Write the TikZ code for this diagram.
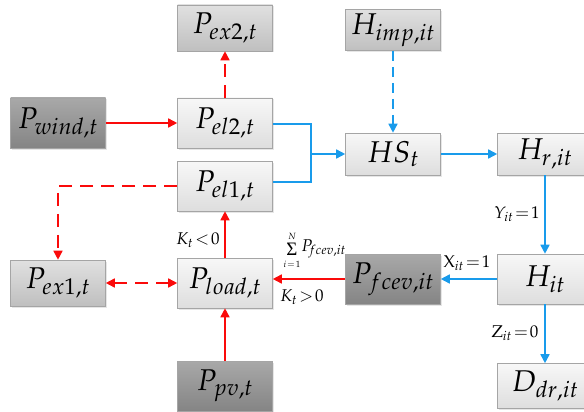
\documentclass[tikz,border=0pt]{standalone}
\usepackage{mathpazo}
\usepackage[no-math]{fontspec}
\newfontfamily\sigmafont{Liberation Serif}
\usetikzlibrary{arrows.meta,shadows,calc}

\definecolor{flowred}{RGB}{250,10,10}
\definecolor{flowblue}{RGB}{25,155,235}
\definecolor{boxedge}{RGB}{165,165,165}
\definecolor{boxshadow}{RGB}{205,205,205}

\tikzset{
  box/.style={draw=boxedge, line width=0.6pt, minimum width=95pt, inner sep=0pt,
    font=\fontsize{30}{32}\selectfont,
    drop shadow={shadow xshift=1.5pt, shadow yshift=-1.5pt, fill=boxshadow, draw=none}},
  lightbox/.style={box, top color=black!3, bottom color=black!13},
  midbox/.style={box, top color=black!12, bottom color=black!25},
  darkbox/.style={box, top color=black!34, bottom color=black!48},
  arrowtip/.style={-{Triangle[length=9pt,width=9pt]}},
  redflow/.style={draw=flowred, color=flowred, line width=1.6pt},
  blueflow/.style={draw=flowblue, color=flowblue, line width=1.6pt},
  reddash/.style={redflow, dash pattern=on 13pt off 8pt},
  bluedash/.style={blueflow, dash pattern=on 10pt off 6pt},
  lbl/.style={inner sep=0pt, font=\fontsize{17}{19}\selectfont},
  limit/.style={inner sep=0pt, font=\fontsize{9}{10}\selectfont},
}

\begin{document}
\begin{tikzpicture}[x=1pt, y=-1pt]
  \useasboundingbox (0,0) rectangle (584,412);
  \clip (0,0) rectangle (584,412);

  % electricity side
  \node[midbox,   minimum height=46pt] (pex2)  at (225,28)  {$P_{ex2,t}$};
  \node[darkbox,  minimum height=50pt] (pwind) at (58,123)  {$P_{wind,t}$};
  \node[lightbox, minimum height=50pt] (pel2)  at (225,123) {$P_{el2,t}$};
  \node[lightbox, minimum height=50pt] (pel1)  at (225,186) {$P_{el1,t}$};
  \node[midbox,   minimum height=46pt] (pex1)  at (58,283)  {$P_{ex1,t}$};
  \node[lightbox, minimum height=50pt] (pload) at (225,283) {$P_{load,t}$};
  \node[darkbox,  minimum height=50pt] (ppv)   at (225,386) {$P_{pv,t}$};

  % hydrogen side
  \node[midbox,   minimum height=41pt] (himp)  at (393,30)  {$H_{imp,it}$};
  \node[lightbox, minimum height=42pt] (hs)    at (393,154) {$HS_{t}$};
  \node[lightbox, minimum height=42pt] (hr)    at (545,154) {$H_{r,it}$};
  \node[lightbox, minimum height=50pt] (hit)   at (545,279) {$H_{it}$};
  \node[darkbox,  minimum height=50pt] (pfcev) at (393,279) {$P_{fcev,it}$};
  \node[lightbox, minimum height=45pt] (ddr)   at (545,386) {$D_{dr,it}$};

  % electric power flows
  \draw[redflow, arrowtip] (pwind.east) -- (pel2.west);
  \draw[reddash, arrowtip] (pel2.north) -- (pex2.south);
  \draw[redflow, arrowtip] (pload.north) -- (pel1.south);
  \draw[redflow, arrowtip] (ppv.north) -- (pload.south);
  \draw[reddash, {Triangle[length=9pt,width=9pt]}-{Triangle[length=9pt,width=9pt]}] (pex1.east) -- (pload.west);
  \draw[reddash, arrowtip] (pel1.west) -| (pex1.north);
  \draw[redflow, arrowtip] (pfcev.west) -- (pload.east |- pfcev.west);

  % hydrogen flows
  \coordinate (junc) at (311,154);
  \draw[blueflow] ([yshift=-1pt]pel2.east) -| (junc) |- ([yshift=4pt]pel1.east);
  \draw[blueflow, arrowtip] (junc) -- (hs.west);
  \draw[bluedash, arrowtip] (himp.south) -- (hs.north);
  \draw[blueflow, arrowtip] (hs.east) -- (hr.west);
  \draw[blueflow, arrowtip] (hr.south) -- (hit.north);
  \draw[blueflow, arrowtip] (hit.west) -- (pfcev.east);
  \draw[blueflow, arrowtip] (hit.south) -- (ddr.north);

  % conditions
  \node[lbl] (ylab) at (517,214) {$Y_{it}\!=\!1$};
  \node[lbl] (xlab) at (467,263) {$\mathrm{X}_{it}\!=\!1$};
  \node[lbl] (zlab) at (515,333) {$\mathrm{Z}_{it}\!=\!0$};
  \node[lbl] (klow) at (198,240) {$K_{t}\!<\!0$};
  \node[lbl] (khigh) at (302,297) {$K_{t}\!>\!0$};

  % aggregated fuel-cell power: sum sign with its limits, then the term
  \node[inner sep=0pt, font=\sigmafont\fontsize{19}{21}\selectfont] (sigma) at (292,249) {Σ};
  \node[limit] (supn) at (292,236) {$N$};
  \node[limit] (subi) at (292,264) {$i\!=\!1$};
  \node[lbl, anchor=west] (psum) at (301,249) {$P_{\!fcev,it}$};
\end{tikzpicture}
\end{document}
